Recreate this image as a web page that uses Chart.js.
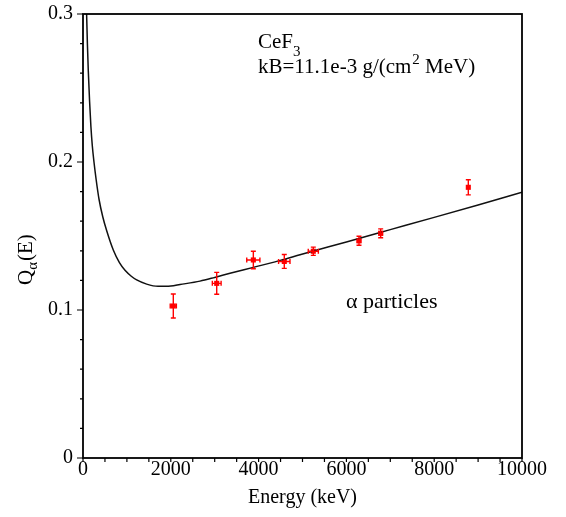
<!DOCTYPE html>
<html>
<head>
<meta charset="utf-8">
<script src="https://cdn.jsdelivr.net/npm/chart.js@4/dist/chart.umd.min.js"></script>
<style>
html,body{margin:0;padding:0;background:#fff;}
#c{display:block;}
</style>
</head>
<body>
<canvas id="c" width="566" height="517"></canvas>
<script>
// ---- data ----
const pointEnergy = [2057, 3046, 3880, 4585, 5246, 6287, 6781, 8777];
const pointQ      = [0.1027, 0.1180, 0.1338, 0.1328, 0.1397, 0.1468, 0.1518, 0.1829];
const pointQErr   = [0.0081, 0.0074, 0.0059, 0.0047, 0.0028, 0.0030, 0.0030, 0.0051];
const pointEErr   = [70, 100, 150, 130, 115, 40, 40, 0];

const curveEnergy = [70, 84, 100, 120, 150, 180, 212, 250, 300, 364, 450, 540, 690, 830, 957, 1100, 1223, 1450, 1708, 2000, 2210, 2665, 3000, 3349, 3880, 4585, 4943, 6000, 7000, 8000, 9000, 10000];
const curveQ      = [0.318, 0.298, 0.280, 0.262, 0.241, 0.224, 0.211, 0.200, 0.188, 0.175, 0.163, 0.1535, 0.1405, 0.132, 0.1268, 0.1228, 0.1203, 0.1175, 0.1160, 0.1162, 0.1172, 0.1195, 0.1220, 0.1248, 0.1288, 0.1342, 0.1373, 0.1460, 0.1543, 0.1626, 0.1710, 0.1795];

const xMajorLabels = [0, 2000, 4000, 6000, 8000, 10000];
const yMajorLabels = [0, 0.1, 0.2, 0.3];

const FONT = "'Liberation Serif', 'Times New Roman', serif";

function isMajor(v, list){ return list.some(m => Math.abs(m - v) < 1e-6 * Math.max(1, Math.abs(m))); }

const decorPlugin = {
  id: 'decor',
  afterDatasetsDraw(chart){
    const ctx = chart.ctx;
    const xs = chart.scales.x, ys = chart.scales.y;
    const ca = chart.chartArea;
    ctx.save();
    // error bars
    ctx.strokeStyle = '#ff0000';
    ctx.lineWidth = 1.4;
    for (let i = 0; i < pointEnergy.length; i++){
      const px = xs.getPixelForValue(pointEnergy[i]);
      const py = ys.getPixelForValue(pointQ[i]);
      const yt = ys.getPixelForValue(pointQ[i] + pointQErr[i]);
      const yb = ys.getPixelForValue(pointQ[i] - pointQErr[i]);
      ctx.beginPath();
      ctx.moveTo(px, yt); ctx.lineTo(px, yb);
      ctx.moveTo(px - 2.5, yt); ctx.lineTo(px + 2.5, yt);
      ctx.moveTo(px - 2.5, yb); ctx.lineTo(px + 2.5, yb);
      ctx.stroke();
      if (pointEErr[i] > 0){
        const xl = xs.getPixelForValue(pointEnergy[i] - pointEErr[i]);
        const xr = xs.getPixelForValue(pointEnergy[i] + pointEErr[i]);
        ctx.beginPath();
        ctx.moveTo(xl, py); ctx.lineTo(xr, py);
        ctx.moveTo(xl, py - 2.5); ctx.lineTo(xl, py + 2.5);
        ctx.moveTo(xr, py - 2.5); ctx.lineTo(xr, py + 2.5);
        ctx.stroke();
      }
    }
    // frame
    ctx.strokeStyle = '#000';
    ctx.lineWidth = 1.8;
    ctx.strokeRect(ca.left, ca.top, ca.right - ca.left, ca.bottom - ca.top);
    // ticks
    ctx.lineWidth = 1.2;
    ctx.beginPath();
    xs.ticks.forEach(t => {
      const p = xs.getPixelForValue(t.value);
      ctx.moveTo(p, ca.bottom); ctx.lineTo(p, ca.bottom + 4);
    });
    ys.ticks.forEach(t => {
      const p = ys.getPixelForValue(t.value);
      const len = isMajor(t.value, yMajorLabels) ? 6 : 3;
      ctx.moveTo(ca.left, p); ctx.lineTo(ca.left - len, p);
    });
    ctx.stroke();

    // texts
    ctx.fillStyle = '#000';
    ctx.textBaseline = 'alphabetic';
    ctx.textAlign = 'left';
    // CeF3
    ctx.font = '21px ' + FONT;
    let x = 258;
    ctx.fillText('CeF', x, 48);
    x += ctx.measureText('CeF').width;
    ctx.font = '15px ' + FONT;
    ctx.fillText('3', x, 56);
    // kB line
    ctx.font = '21px ' + FONT;
    x = 258;
    const s1 = 'kB=11.1e-3 g/(cm';
    ctx.fillText(s1, x, 73);
    x += ctx.measureText(s1).width + 1;
    ctx.font = '15px ' + FONT;
    ctx.fillText('2', x, 64);
    x += ctx.measureText('2').width;
    ctx.font = '21px ' + FONT;
    ctx.fillText(' MeV)', x, 73);
    // alpha particles
    ctx.font = '22px ' + FONT;
    ctx.fillText('\u03b1 particles', 346, 308);
    // x title
    ctx.textAlign = 'center';
    ctx.font = '20px ' + FONT;
    ctx.fillText('Energy (keV)', (ca.left + ca.right) / 2, 503);
    // y title rotated
    ctx.save();
    ctx.translate(32, 285);
    ctx.rotate(-Math.PI / 2);
    ctx.textAlign = 'left';
    ctx.font = '21px ' + FONT;
    let yx = 0;
    ctx.fillText('Q', yx, 0);
    yx += ctx.measureText('Q').width;
    ctx.font = '15px ' + FONT;
    ctx.fillText('\u03b1', yx, 5);
    yx += ctx.measureText('\u03b1').width + 1;
    ctx.font = '21px ' + FONT;
    ctx.fillText('(E)', yx, 0);
    ctx.restore();
    ctx.restore();
  }
};

new Chart(document.getElementById('c'), {
  type: 'scatter',
  data: {
    datasets: [
      {
        data: curveEnergy.map((e, i) => ({x: e, y: curveQ[i]})),
        showLine: true,
        borderColor: '#111',
        borderWidth: 1.5,
        pointRadius: 0,
        cubicInterpolationMode: 'monotone',
        fill: false
      },
      {
        data: pointEnergy.map((e, i) => ({x: e, y: pointQ[i]})),
        showLine: false,
        pointStyle: 'rect',
        pointRadius: 3.6,
        backgroundColor: '#ff0000',
        borderColor: '#ff0000',
        borderWidth: 0
      }
    ]
  },
  options: {
    responsive: false,
    animation: false,
    devicePixelRatio: 1,
    layout: { padding: { left: 0, top: 14, right: 44, bottom: 0 } },
    plugins: { legend: { display: false }, tooltip: { enabled: false } },
    scales: {
      x: {
        type: 'linear', min: 0, max: 10000,
        afterFit(s){ s.height = 59; s.paddingLeft = 0; s.paddingRight = 0; },
        border: { display: false },
        grid: { display: false, drawTicks: false },
        ticks: {
          stepSize: 500, autoSkip: false, maxTicksLimit: 100, maxRotation: 0,
          padding: 0, color: '#000',
          font: { family: FONT, size: 20 },
          callback: v => isMajor(v, xMajorLabels) ? String(v) : ''
        }
      },
      y: {
        type: 'linear', min: 0, max: 0.3,
        afterFit(s){ s.width = 83; s.paddingTop = 0; s.paddingBottom = 0; },
        border: { display: false },
        grid: { display: false, drawTicks: false },
        ticks: {
          stepSize: 0.02, autoSkip: false, maxTicksLimit: 100,
          padding: 10, color: '#000',
          font: { family: FONT, size: 20 },
          callback: v => {
            const m = yMajorLabels.find(t => Math.abs(t - v) < 1e-6);
            return m === undefined ? '' : String(m);
          }
        }
      }
    }
  },
  plugins: [decorPlugin]
});
</script>
</body>
</html>
